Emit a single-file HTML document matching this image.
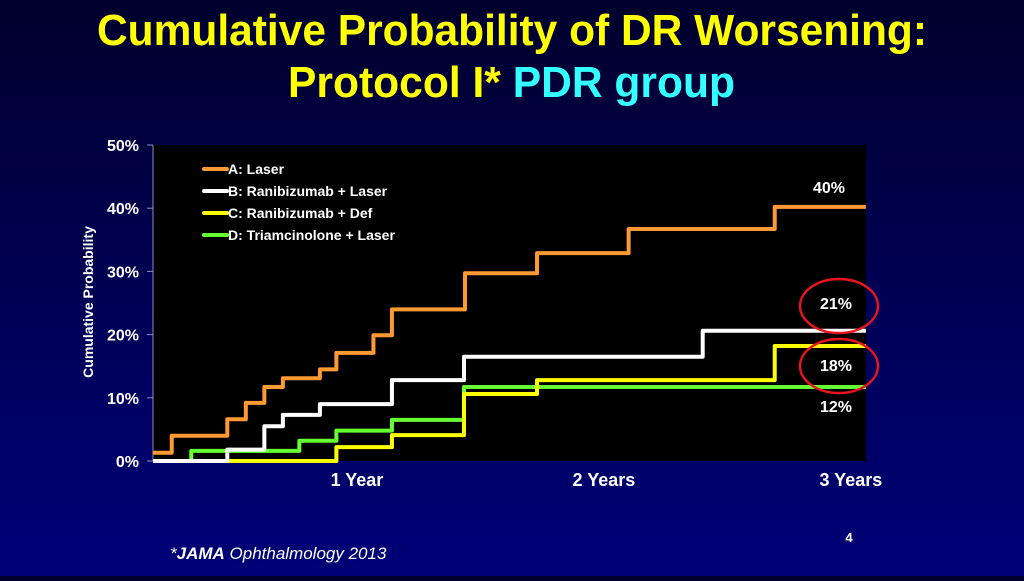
<!DOCTYPE html>
<html><head><meta charset="utf-8"><style>
html,body{margin:0;padding:0;}
body{width:1024px;height:576px;overflow:hidden;background:linear-gradient(#00002c 0%,#000050 45%,#000078 100%);font-family:"Liberation Sans",Arial,sans-serif;}
</style></head><body>
<svg id="chart" width="1024" height="576" xmlns="http://www.w3.org/2000/svg" font-family="Liberation Sans, Arial, sans-serif">
  <text x="97" y="45" font-size="44" font-weight="bold" fill="#ffff00" textLength="830" lengthAdjust="spacingAndGlyphs">Cumulative Probability of DR Worsening:</text>
  <text x="288" y="97" font-size="44" font-weight="bold" fill="#ffff00" textLength="447" lengthAdjust="spacingAndGlyphs">Protocol I* <tspan fill="#33ffff">PDR group</tspan></text>
  <rect x="153" y="145" width="713" height="316" fill="#000"/>
  <g id="axes"></g>
  <g id="series"></g>
  <g font-size="14" font-weight="bold" fill="#fff">
    <line x1="204" y1="169" x2="227" y2="169" stroke="#ff9933" stroke-width="4" stroke-linecap="round"/>
    <text x="228" y="174">A: Laser</text>
    <line x1="204" y1="191" x2="227" y2="191" stroke="#fff" stroke-width="4" stroke-linecap="round"/>
    <text x="228" y="196">B: Ranibizumab + Laser</text>
    <line x1="204" y1="213" x2="227" y2="213" stroke="#ffff00" stroke-width="4" stroke-linecap="round"/>
    <text x="228" y="218">C: Ranibizumab + Def</text>
    <line x1="204" y1="235" x2="227" y2="235" stroke="#66ff33" stroke-width="4" stroke-linecap="round"/>
    <text x="228" y="240">D: Triamcinolone + Laser</text>
  </g>
  <text transform="translate(93,302) rotate(-90)" text-anchor="middle" font-size="14" font-weight="bold" fill="#fff">Cumulative Probability</text>
  <g font-size="16" font-weight="bold" fill="#fff" text-anchor="middle">
    <text x="829" y="193">40%</text>
    <text x="836" y="309">21%</text>
    <text x="836" y="371">18%</text>
    <text x="836" y="412">12%</text>
  </g>
  <ellipse cx="839" cy="306" rx="39" ry="27" fill="none" stroke="#e8141e" stroke-width="2.5"/>
  <ellipse cx="839" cy="366" rx="39" ry="27" fill="none" stroke="#e8141e" stroke-width="2.5"/>
  <text x="849" y="542" font-size="13" font-weight="bold" fill="#fff" text-anchor="middle">4</text>
  <text x="170" y="559" font-size="17" font-style="italic" fill="#fff">*<tspan font-weight="bold">JAMA</tspan> Ophthalmology 2013</text>
</svg>
<script>
const yTicks = [0, 10, 20, 30, 40, 50];
const xTickMonths = [12, 24, 36];
const xTickLabels = ["1 Year", "2 Years", "3 Years"];
const laserMonths = [2.09, 3.0, 5.7, 6.6, 7.5, 8.4, 10.2, 11.0, 12.8, 13.7, 17.25, 20.75, 25.2, 32.3];
const laserPct = [1.3, 4.0, 6.6, 9.2, 11.7, 13.1, 14.5, 17.1, 19.9, 24.0, 29.7, 32.9, 36.7, 40.2];
const raniLaserMonths = [2.09, 5.7, 7.5, 8.4, 10.2, 13.7, 17.2, 28.8];
const raniLaserPct = [0, 1.8, 5.5, 7.3, 9.0, 12.8, 16.5, 20.6];
const raniDefMonths = [2.09, 11.0, 13.7, 17.2, 20.75, 32.3];
const raniDefPct = [0, 2.2, 4.1, 10.6, 12.8, 18.2];
const triamMonths = [2.09, 3.95, 9.2, 11.0, 13.7, 17.2];
const triamPct = [0, 1.6, 3.2, 4.8, 6.5, 11.7];
const endMonth = 36.73;

const NS = "http://www.w3.org/2000/svg";
const xs = m => 110 + m * 20.58;
const ys = p => 461 - p * 6.32;
const axes = document.getElementById('axes');
const series = document.getElementById('series');
function mk(tag, attrs, parent) {
  const e = document.createElementNS(NS, tag);
  for (const k in attrs) e.setAttribute(k, attrs[k]);
  parent.appendChild(e);
  return e;
}
const yAxis = mk('line', {x1: 153, y1: 145, x2: 153, y2: 461, stroke: '#8890c0', 'stroke-width': 1}, axes);


yTicks.forEach(t => {
  const tk = mk('line', {x1: 147, y1: ys(t), x2: 153, y2: ys(t), stroke: '#8890c0', 'stroke-width': 1}, axes);
  
  
  const tx = mk('text', {x: 139, y: ys(t) + 6, 'text-anchor': 'end', 'font-size': 16, 'font-weight': 'bold', fill: '#fff'}, axes);
  tx.textContent = t + '%';
  
  
});
xTickMonths.forEach((m, i) => {
  const tx = mk('text', {x: xs(m), y: 486, 'text-anchor': 'middle', 'font-size': 18, 'font-weight': 'bold', fill: '#fff'}, axes);
  tx.textContent = xTickLabels[i];
  
  
});
function stepPath(ms, ps) {
  let d = 'M' + xs(ms[0]) + ',' + ys(ps[0]);
  for (let i = 1; i < ms.length; i++) {
    d += ' H' + xs(ms[i]) + ' V' + ys(ps[i]);
  }
  d += ' H' + xs(endMonth);
  return d;
}
const defs = [
  ['series-d-triamcinolone', triamMonths, triamPct, '#66ff33'],
  ['series-c-ranibizumab-def', raniDefMonths, raniDefPct, '#ffff00'],
  ['series-b-ranibizumab-laser', raniLaserMonths, raniLaserPct, '#ffffff'],
  ['series-a-laser', laserMonths, laserPct, '#ff9933']
];
defs.forEach(s => {
  const p = mk('path', {d: stepPath(s[1], s[2]), fill: 'none', stroke: s[3], 'stroke-width': 4, 'stroke-linejoin': 'round'}, series);
  
  
});
</script>
</body></html>
